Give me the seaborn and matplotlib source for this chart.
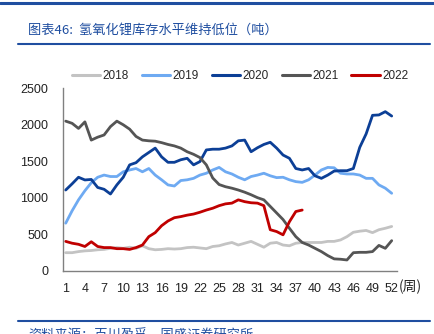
import numpy as np
import pandas as pd
import seaborn as sns
import matplotlib
matplotlib.use("Agg")
import matplotlib.pyplot as plt
from matplotlib.lines import Line2D

weeks = list(range(1, 53))
y2018 = [245, 245, 260, 270, 275, 285, 290, 305, 315, 305, 320, 305, 340, 300, 285, 290, 300, 295, 300, 315,
         320, 310, 300, 330, 340, 365, 385, 350, 375, 400, 360, 320, 375, 385, 350, 340, 375, 385, 385, 385,
         385, 400, 400, 420, 465, 525, 540, 550, 520, 560, 580, 605]
y2019 = [650, 820, 970, 1095, 1205, 1280, 1310, 1290, 1290, 1355, 1380, 1400, 1355, 1400, 1310, 1245, 1175, 1160, 1235, 1245,
         1265, 1310, 1335, 1380, 1415, 1355, 1325, 1280, 1245, 1290, 1310, 1335, 1300, 1275, 1280, 1245, 1220, 1210, 1245, 1310,
         1380, 1415, 1410, 1335, 1325, 1325, 1310, 1265, 1265, 1175, 1130, 1060]
y2020 = [1105, 1190, 1280, 1243, 1250, 1140, 1115, 1050, 1175, 1280, 1450, 1480, 1560, 1620, 1680, 1560, 1485, 1485, 1520, 1540,
         1450, 1495, 1655, 1665, 1665, 1680, 1710, 1780, 1790, 1630, 1685, 1730, 1760, 1680, 1585, 1540, 1400, 1380, 1400, 1300,
         1265, 1310, 1365, 1370, 1370, 1400, 1690, 1875, 2130, 2135, 2180, 2120]
y2021 = [2050, 2020, 1950, 2040, 1790, 1830, 1860, 1975, 2050, 2000, 1940, 1840, 1790, 1780, 1775, 1755, 1730, 1710, 1680, 1630,
         1595, 1550, 1450, 1270, 1180, 1150, 1130, 1105, 1075, 1040, 1000, 970, 880, 790, 700, 580, 465, 385, 350, 305,
         260, 205, 160, 155, 145, 245, 250, 250, 260, 345, 305, 410]
y2022 = [400, 375, 360, 330, 395, 330, 315, 315, 300, 300, 290, 315, 350, 465, 520, 615, 680, 725, 740, 760,
         775, 800, 830, 855, 890, 915, 925, 970, 945, 930, 925, 890, 560, 535, 490, 670, 810, 830]
years = ["2018", "2019", "2020", "2021", "2022"]
xticks = list(range(1, 53, 3))
yticks = [0, 500, 1000, 1500, 2000, 2500]

series = {"2018": y2018, "2019": y2019, "2020": y2020, "2021": y2021, "2022": y2022}
rows = []
for yr, vals in series.items():
    for w, v in zip(weeks, vals):
        rows.append({"week": w, "value": v, "year": yr})
df = pd.DataFrame(rows)

colors = {"2018": "#c3c3c3", "2019": "#6eaaf2", "2020": "#0c3f96", "2021": "#555555", "2022": "#c00000"}

sns.set_style("white")
plt.rcParams['font.family'] = ['Liberation Sans', 'DejaVu Sans']

fig = plt.figure(figsize=(4.35, 3.34), dpi=100)
ax = fig.add_axes([0.1455, 0.190, 0.7667, 0.5455])
sns.lineplot(data=df, x="week", y="value", hue="year", hue_order=years, palette=colors,
             linewidth=2.0, ax=ax, legend=False, estimator=None)

ax.set_xlim(0.62, 52.8)
ax.set_ylim(0, 2500)
ax.set_xticks(xticks)
ax.set_yticks(yticks)
ax.set_xlabel("")
ax.set_ylabel("")
for s in ["top", "right"]:
    ax.spines[s].set_visible(False)
for s in ["left", "bottom"]:
    ax.spines[s].set_color("#808080")
    ax.spines[s].set_linewidth(1.0)
ax.tick_params(axis="x", direction="in", length=4, width=0.8, color="#808080", labelsize=9, pad=9, labelcolor="#222222")
ax.tick_params(axis="y", direction="in", length=3, width=0.8, color="#808080", labelsize=9, pad=11, labelcolor="#222222")

fig.text(0.916, 1 - 287 / 334, "(周)", fontsize=10, family=['Noto Sans CJK SC', 'DejaVu Sans'],
         va="center", ha="left", color="#222222")

handles = [Line2D([0], [0], color=colors[y], lw=2.2) for y in years]
fig.legend(handles, years, loc="center", bbox_to_anchor=(240 / 435, 1 - 76 / 334), ncol=5, frameon=False,
           fontsize=8.5, handlelength=2.4, handletextpad=0.2, columnspacing=1.1)

# header / footer decoration
blue = "#1f4ea0"
fig.add_artist(Line2D([0, 1], [1 - 3 / 334, 1 - 3 / 334], color=blue, lw=2.2, transform=fig.transFigure))
fig.add_artist(Line2D([18 / 435, 430 / 435], [1 - 44 / 334, 1 - 44 / 334], color=blue, lw=1.5, transform=fig.transFigure))
fig.add_artist(Line2D([18 / 435, 430 / 435], [1 - 321 / 334, 1 - 321 / 334], color=blue, lw=1.5, transform=fig.transFigure))
fig.text(28 / 435, 1 - 30 / 334, "图表46:  氢氧化锂库存水平维持低位（吨）", fontsize=9.5, color=blue,
         style="italic", family=['Noto Sans CJK SC', 'DejaVu Sans'], va="center", ha="left")
fig.text(28 / 435, 1 - 336 / 334, "资料来源：百川盈孚，国盛证券研究所", fontsize=9.5, color=blue,
         style="italic", family=['Noto Sans CJK SC', 'DejaVu Sans'], va="center", ha="left")

fig.savefig("out.png", dpi=100)
